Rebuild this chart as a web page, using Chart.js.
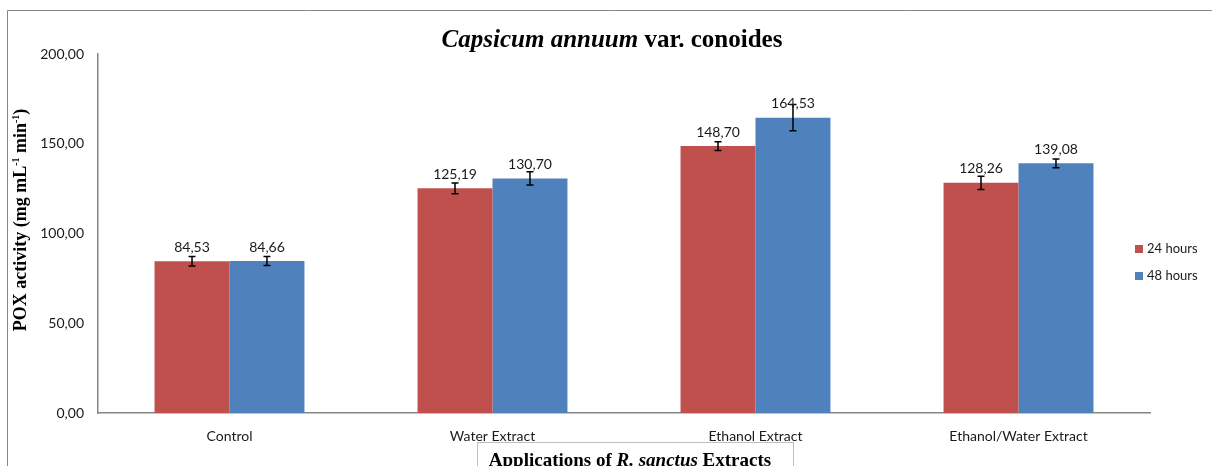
<!DOCTYPE html>
<html>
<head>
<meta charset="utf-8">
<script src="https://cdn.jsdelivr.net/npm/chart.js@4"></script>
<style>
  html, body { margin: 0; padding: 0; background: #fff; }
  canvas { display: block; }
</style>
</head>
<body>
<canvas id="chart" width="1212" height="466"></canvas>
<script>
// data
const categories = ['Control', 'Water Extract', 'Ethanol Extract', 'Ethanol/Water Extract'];
const seriesNames = ['24 hours', '48 hours'];
const hours24 = [84.53, 125.19, 148.70, 128.26];
const hours48 = [84.66, 130.70, 164.53, 139.08];
const err24 = [2.6, 3.0, 2.4, 3.7];
const err48 = [2.5, 3.7, 7.3, 2.4];
const yMin = 0, yMax = 200, yStep = 50;

const RED = '#C0504D';
const BLUE = '#4F81BD';
const AXIS = '#868686';
const fmt = v => v.toFixed(2).replace('.', ',');

// draw a run of text pieces with their own fonts (italic / bold / superscript)
function drawRich(ctx, parts, x, y) {
    let total = 0;
    parts.forEach(p => { ctx.font = p.font; total += ctx.measureText(p.text).width; });
    let cx = x - total / 2;
    ctx.textAlign = 'left';
    ctx.textBaseline = 'alphabetic';
    parts.forEach(p => {
        ctx.font = p.font;
        ctx.fillText(p.text, cx, y + (p.dy || 0));
        cx += ctx.measureText(p.text).width;
    });
    return total;
}

const decor = {
    id: 'decor',
    beforeDraw(chart) {
        const ctx = chart.ctx;
        ctx.save();
        ctx.fillStyle = '#fff';
        ctx.fillRect(0, 0, chart.width, chart.height);
        // outer chart frame
        ctx.strokeStyle = AXIS;
        ctx.lineWidth = 1;
        ctx.beginPath();
        ctx.moveTo(7.5, chart.height);
        ctx.lineTo(7.5, 10.5);
        ctx.lineTo(chart.width, 10.5);
        ctx.stroke();
        ctx.restore();
    },
    afterDatasetsDraw(chart) {
        const ctx = chart.ctx;
        const y = chart.scales.y;
        const errs = [err24, err48];
        ctx.save();
        chart.data.datasets.forEach((ds, i) => {
            const meta = chart.getDatasetMeta(i);
            meta.data.forEach((bar, j) => {
                const v = ds.data[j];
                const e = errs[i][j];
                const top = y.getPixelForValue(v + e);
                const bot = y.getPixelForValue(v - e);
                ctx.strokeStyle = '#000';
                ctx.lineWidth = 1.5;
                ctx.beginPath();
                ctx.moveTo(bar.x, top); ctx.lineTo(bar.x, bot);
                ctx.moveTo(bar.x - 3.5, top); ctx.lineTo(bar.x + 3.5, top);
                ctx.moveTo(bar.x - 3.5, bot); ctx.lineTo(bar.x + 3.5, bot);
                ctx.stroke();
                // value label
                ctx.fillStyle = '#1a1a1a';
                ctx.font = '14px Lato';
                ctx.textAlign = 'center';
                ctx.textBaseline = 'middle';
                ctx.fillText(fmt(v), bar.x, bar.y - 14);
            });
        });
        ctx.restore();
    },
    afterDraw(chart) {
        const ctx = chart.ctx;
        ctx.save();
        ctx.fillStyle = '#000';
        // title
        drawRich(ctx, [
            { text: 'Capsicum annuum', font: 'italic bold 25px "Liberation Serif"' },
            { text: ' var. conoides', font: 'bold 25px "Liberation Serif"' }
        ], 612, 47);

        // y axis title
        ctx.save();
        ctx.translate(26, 220);
        ctx.rotate(-Math.PI / 2);
        drawRich(ctx, [
            { text: 'POX activity (mg mL', font: 'bold 18px "Liberation Serif"' },
            { text: '-1', font: 'bold 10px "Liberation Serif"', dy: -7 },
            { text: ' min', font: 'bold 18px "Liberation Serif"' },
            { text: '-1', font: 'bold 10px "Liberation Serif"', dy: -7 },
            { text: ')', font: 'bold 18px "Liberation Serif"' }
        ], 0, 0);
        ctx.restore();

        // x axis title in its box
        ctx.strokeStyle = '#BFBFBF';
        ctx.lineWidth = 1;
        ctx.strokeRect(477.5, 442.5, 316, 40);
        drawRich(ctx, [
            { text: 'Applications of ', font: 'bold 19px "Liberation Serif"' },
            { text: 'R. sanctus', font: 'italic bold 19px "Liberation Serif"' },
            { text: ' Extracts', font: 'bold 19px "Liberation Serif"' }
        ], 630, 466);

        // legend
        const colors = [RED, BLUE];
        seriesNames.forEach((name, i) => {
            const ly = 249 + i * 27;
            ctx.fillStyle = colors[i];
            ctx.fillRect(1135, ly - 4, 8, 8);
            ctx.fillStyle = '#1a1a1a';
            ctx.font = '13px Lato';
            ctx.textAlign = 'left';
            ctx.textBaseline = 'middle';
            ctx.fillText(name, 1147, ly);
        });
        ctx.restore();
    }
};

new Chart(document.getElementById('chart'), {
    type: 'bar',
    data: {
        labels: categories,
        datasets: [
            { label: seriesNames[0], data: hours24, backgroundColor: RED },
            { label: seriesNames[1], data: hours48, backgroundColor: BLUE }
        ]
    },
    options: {
        responsive: false,
        animation: false,
        layout: { padding: { left: 0, top: 54, right: 62, bottom: 0 } },
        categoryPercentage: 0.57,
        barPercentage: 1,
        plugins: { legend: { display: false }, title: { display: false }, tooltip: { enabled: false } },
        scales: {
            x: {
                grid: { display: false, drawTicks: false },
                border: { color: AXIS, width: 1.5 },
                ticks: { color: '#1a1a1a', font: { family: 'Lato', size: 14 }, padding: 15, maxRotation: 0 },
                afterFit: s => { s.height = 53; }
            },
            y: {
                min: yMin, max: yMax,
                grid: { display: false, drawTicks: false },
                border: { color: AXIS, width: 1.5 },
                ticks: { stepSize: yStep, color: '#1a1a1a', font: { family: 'Lato', size: 14 }, padding: 14, callback: v => fmt(v) },
                afterFit: s => { s.width = 98; }
            }
        }
    },
    plugins: [decor]
});
</script>
</body>
</html>
